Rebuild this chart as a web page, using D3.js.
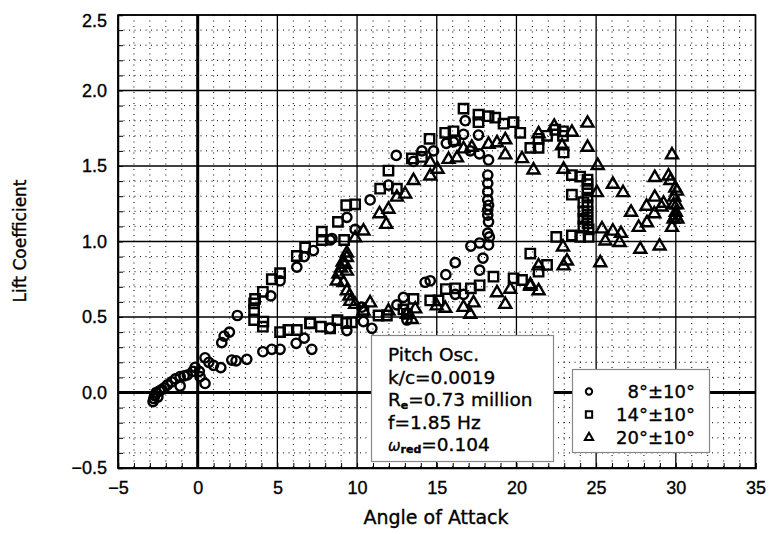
<!DOCTYPE html>
<html><head><meta charset="utf-8">
<script src="https://cdn.jsdelivr.net/npm/d3@7"></script>
<style>
body{margin:0;background:#fff;}
svg{display:block;font-family:"DejaVu Sans",sans-serif;}
svg text{stroke:#000;stroke-width:0.35px;fill:#000;}
</style></head>
<body><svg id="chart" width="770" height="534"></svg>
<script>
// ---- data ----
const xTicks = [-5, 0, 5, 10, 15, 20, 25, 30, 35];
const yTicks = [-0.5, 0.0, 0.5, 1.0, 1.5, 2.0, 2.5];
const seriesNames = ["8°±10°", "14°±10°", "20°±10°"];
const circles = [[-2.8,-0.06],[-2.75,-0.04],[-2.7,-0.02],[-2.6,0.0],[-2.5,-0.03],[-2.4,0.01],[-2.25,0.02],[-2.1,0.03],[-1.9,0.05],[-1.63,0.07],[-1.4,0.09],[-1.1,0.105],[-1.1,0.043],[-0.85,0.11],[-0.65,0.116],[-0.3,0.14],[-0.16,0.167],[0.15,0.105],[0.1,0.14],[0.46,0.06],[0.46,0.23],[0.7,0.2],[0.99,0.18],[1.45,0.165],[2.14,0.215],[2.41,0.21],[3.08,0.22],[1.51,0.33],[1.66,0.374],[1.99,0.4],[2.49,0.51],[4.09,0.27],[4.65,0.286],[5.17,0.286],[6.18,0.326],[6.68,0.36],[7.16,0.286],[4.59,0.64],[5.17,0.74],[6.22,0.83],[6.68,0.9],[7.26,0.94],[8.31,1.01],[8.42,1.02],[9.36,1.16],[9.88,1.08],[10.82,1.275],[11.97,1.374],[12.46,1.57],[13.54,1.53],[14.07,1.6],[14.8,1.6],[15.6,1.65],[16.05,1.66],[16.68,1.71],[16.79,1.8],[17.62,1.705],[17.1,1.6],[17.68,1.58],[18.25,1.54],[18.2,1.44],[18.2,1.385],[18.2,1.33],[18.2,1.275],[18.25,1.24],[18.2,1.21],[18.2,1.175],[18.25,1.13],[18.2,1.055],[18.3,1.03],[18.25,0.977],[17.69,0.99],[17.14,0.97],[17.9,0.89],[17.69,0.81],[16.16,0.86],[15.57,0.78],[14.59,0.74],[14.27,0.73],[16.16,0.65],[16.68,0.65],[12.91,0.63],[12.5,0.58],[13.13,0.48],[10.93,0.425],[9.36,0.41],[8.31,0.425],[10.4,0.47],[10.3,0.565]];
const squares = [[3.54,0.59],[3.54,0.546],[3.54,0.48],[3.6,0.62],[4.09,0.667],[4.09,0.436],[4.12,0.47],[4.65,0.75],[5.17,0.79],[5.17,0.40],[5.69,0.414],[6.22,0.414],[6.22,0.904],[6.74,0.96],[7.06,0.458],[7.73,0.436],[8.31,0.425],[8.77,0.48],[9.32,0.46],[9.67,0.465],[7.79,1.065],[7.79,1.01],[8.8,1.13],[9.32,1.24],[9.88,1.246],[9.19,1.01],[11.45,1.35],[11.97,1.47],[12.5,1.35],[13.44,1.55],[14.07,1.56],[14.55,1.68],[15.53,1.72],[16.05,1.73],[16.16,1.67],[16.68,1.88],[17.62,1.84],[17.62,1.79],[18.25,1.83],[18.67,1.82],[19.19,1.78],[19.82,1.79],[20.24,1.72],[20.87,1.62],[21.39,1.62],[21.39,1.68],[21.92,1.7],[22.44,1.74],[22.92,1.73],[22.92,1.7],[22.96,1.59],[23.48,1.44],[24.0,1.43],[24.46,1.41],[24.46,1.38],[24.46,1.34],[24.46,1.29],[23.48,1.31],[24.2,1.26],[24.46,1.24],[24.2,1.2],[24.46,1.2],[24.2,1.15],[24.46,1.16],[24.46,1.12],[24.2,1.1],[24.53,1.08],[24.53,1.03],[24.0,1.03],[23.48,1.04],[22.5,1.03],[20.87,0.92],[21.92,0.845],[21.39,0.8],[19.82,0.756],[20.35,0.745],[18.56,0.767],[17.69,0.71],[17.14,0.69],[16.16,0.69],[15.57,0.685],[14.59,0.61],[15.11,0.61],[13.54,0.62],[12.91,0.55],[13.13,0.52],[10.4,0.535],[11.35,0.51],[11.87,0.51],[7.06,0.46]];
const triangles = [[9.36,0.93],[9.36,0.9],[9.1,0.87],[9.25,0.855],[9.0,0.83],[9.36,0.81],[8.83,0.79],[8.73,0.745],[9.15,0.734],[9.36,0.68],[9.52,0.645],[9.57,0.61],[9.88,0.59],[10.4,0.546],[10.82,0.6],[11.97,0.546],[13.13,0.525],[13.44,0.49],[13.65,0.56],[15.0,0.58],[15.53,0.564],[16.68,0.57],[17.1,0.525],[17.31,0.6],[18.78,0.667],[19.3,0.59],[19.61,0.69],[20.87,0.71],[21.39,0.68],[21.39,0.845],[9.88,1.03],[10.4,1.076],[11.83,1.12],[11.41,1.19],[11.97,1.22],[12.5,1.3],[13.02,1.32],[13.54,1.41],[14.59,1.44],[14.59,1.53],[15.05,1.485],[15.74,1.55],[16.27,1.56],[16.68,1.62],[17.2,1.63],[18.25,1.65],[18.78,1.66],[19.3,1.68],[19.3,1.58],[20.35,1.555],[21.07,1.48],[21.39,1.72],[22.37,1.77],[23.48,1.73],[24.46,1.79],[24.46,1.63],[22.86,1.64],[22.96,1.485],[25.1,1.51],[25.05,1.33],[26.05,1.385],[26.69,1.33],[27.19,1.2],[25.37,1.09],[26.05,1.075],[26.56,1.06],[25.58,1.01],[26.47,1.0],[27.67,1.1],[28.19,1.13],[28.16,1.24],[28.68,1.43],[28.68,1.3],[28.65,1.19],[29.23,1.26],[29.1,1.235],[27.77,0.955],[28.98,0.977],[29.54,1.44],[29.76,1.58],[29.66,1.41],[29.97,1.36],[30.07,1.34],[29.86,1.25],[30.07,1.25],[29.97,1.175],[29.86,1.155],[30.1,1.155],[29.76,1.1],[29.9,1.3],[30.0,1.2],[25.26,0.866],[22.92,0.97],[22.96,0.845],[23.17,0.877],[20.87,0.72]];

// ---- layout ----
const svg = d3.select("#chart");
const L = 118, T = 15, R = 755.5, B = 468;
const x = d3.scaleLinear().domain([-5, 35]).range([L, R]);
const y = d3.scaleLinear().domain([-0.5, 2.5]).range([B, T]);

const g = svg.append("g");
// minor dotted grid
const minorX = d3.range(-5, 36, 1).filter(v => v % 5 !== 0);
const minorY = d3.range(-5, 26, 1).filter(v => v % 5 !== 0).map(v => v / 10);
g.selectAll(".mx").data(minorX).join("line")
  .attr("x1", d => x(d)).attr("x2", d => x(d)).attr("y1", T).attr("y2", B)
  .attr("stroke", "#000").attr("stroke-width", 1).attr("stroke-dasharray", "1,4.5");
g.selectAll(".my").data(minorY).join("line")
  .attr("y1", d => y(d)).attr("y2", d => y(d)).attr("x1", L).attr("x2", R)
  .attr("stroke", "#000").attr("stroke-width", 1).attr("stroke-dasharray", "1,4.5");
// major grid
g.selectAll(".Mx").data(xTicks).join("line")
  .attr("x1", d => x(d)).attr("x2", d => x(d)).attr("y1", T).attr("y2", B)
  .attr("stroke", "#000").attr("stroke-width", d => d === 0 ? 3 : 1.3);
g.selectAll(".My").data(yTicks).join("line")
  .attr("y1", d => y(d)).attr("y2", d => y(d)).attr("x1", L).attr("x2", R)
  .attr("stroke", "#000").attr("stroke-width", d => d === 0 ? 3 : 1.3);

// axes (inward minor ticks, labels)
const xAxis = d3.axisBottom(x).tickValues(d3.range(-5, 36, 1)).tickSize(-5)
  .tickFormat(d => xTicks.includes(d) ? d3.format("d")(d).replace("-", "−") : "");
const ax = svg.append("g").attr("transform", `translate(0,${B})`).call(xAxis);
ax.select(".domain").attr("stroke-width", 1.5);
ax.selectAll("text").attr("font-size", 18).attr("dy", "1.1em").attr("y", 6);
const yAxis = d3.axisLeft(y).tickValues(d3.range(-5, 26, 1).map(v => v / 10)).tickSize(-5)
  .tickFormat(d => yTicks.some(t => Math.abs(t - d) < 1e-9) ? d3.format(".1f")(d) : "");
const ay = svg.append("g").attr("transform", `translate(${L},0)`).call(yAxis);
ay.select(".domain").attr("stroke-width", 1.5);
ay.selectAll("text").attr("font-size", 18).attr("x", -11);
ay.selectAll(".tick").filter(d => d === 2.5).select("text").attr("dy", "0.65em");
// frame
svg.append("rect").attr("x", L).attr("y", T).attr("width", R - L).attr("height", B - T)
  .attr("fill", "none").attr("stroke", "#000").attr("stroke-width", 1.5);

// titles
svg.append("text").attr("x", 436).attr("y", 524).attr("text-anchor", "middle")
  .attr("font-size", 19).text("Angle of Attack");
svg.append("text").attr("transform", "translate(26,241) rotate(-90)").attr("text-anchor", "middle")
  .attr("font-size", 17).text("Lift Coefficient");

// markers
const shapes = [d3.symbolCircle, d3.symbolSquare, d3.symbolTriangle];
const sizes = [68, 88, 62];
const datasets = [circles, squares, triangles];
const mk = svg.append("g");
datasets.forEach((ds, i) => {
  const sym = d3.symbol().type(shapes[i]).size(sizes[i]);
  mk.selectAll(null).data(ds).join("path")
    .attr("transform", d => `translate(${x(d[0])},${y(d[1]) + (i === 2 ? 1 : 0)})`)
    .attr("d", sym).attr("fill", "none").attr("stroke", "#000").attr("stroke-width", 2.4);
});

// annotation box
const ann = svg.append("g");
ann.append("rect").attr("x", 371.5).attr("y", 335.5).attr("width", 182).attr("height", 126)
  .attr("fill", "#fff").attr("stroke", "#888").attr("stroke-width", 1.2);
const tx = 388, fs = 18.5;
const lines = ann.append("text").attr("font-size", fs);
lines.append("tspan").attr("x", tx).attr("y", 361).text("Pitch Osc.");
lines.append("tspan").attr("x", tx).attr("y", 384).text("k/c=0.0019");
const l3 = ann.append("text").attr("font-size", fs).attr("x", tx).attr("y", 406);
l3.append("tspan").text("R");
l3.append("tspan").attr("font-size", 11).attr("font-weight", "bold").attr("dy", 3).text("e");
l3.append("tspan").attr("dy", -3).text("=0.73 million");
ann.append("text").attr("font-size", fs).attr("x", tx).attr("y", 428.5).text("f=1.85 Hz");
const l5 = ann.append("text").attr("font-size", fs).attr("x", tx).attr("y", 451);
l5.append("tspan").attr("font-size", 15).attr("font-style", "italic").text("ω");
l5.append("tspan").attr("font-size", 11).attr("font-weight", "bold").attr("dy", 2).text("red");
l5.append("tspan").attr("dy", -2).text("=0.104");

// legend box
const leg = svg.append("g");
leg.append("rect").attr("x", 572.5).attr("y", 369.5).attr("width", 137).attr("height", 83)
  .attr("fill", "#fff").attr("stroke", "#888").attr("stroke-width", 1.2);
const legY = [391.5, 414.5, 437.5];
seriesNames.forEach((name, i) => {
  leg.append("path").attr("transform", `translate(589,${legY[i]})`)
    .attr("d", d3.symbol().type(shapes[i]).size([32, 40, 30][i]))
    .attr("fill", "none").attr("stroke", "#000").attr("stroke-width", 2);
  leg.append("text").attr("x", 695).attr("y", legY[i] + 6.5).attr("text-anchor", "end")
    .attr("font-size", 18).text(name);
});
</script></body></html>
